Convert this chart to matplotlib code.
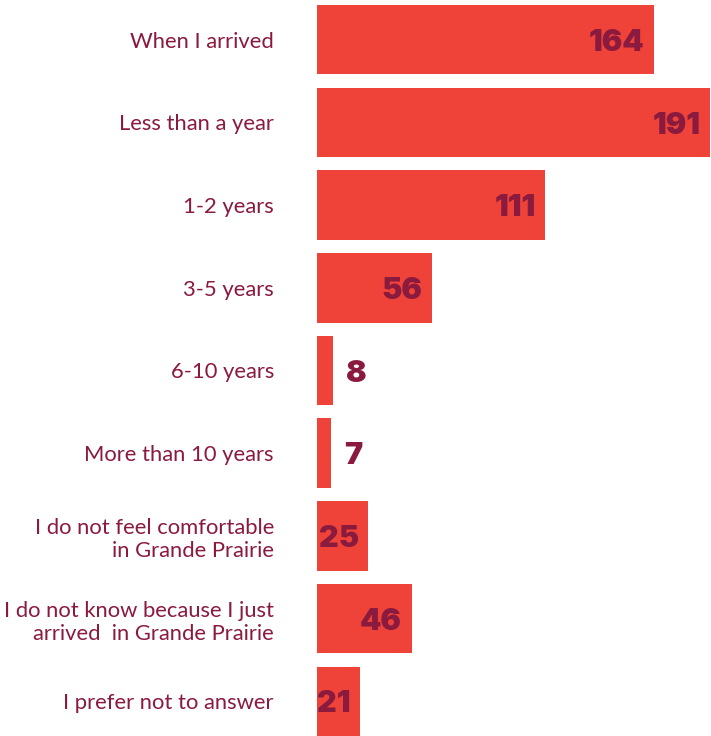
import matplotlib.pyplot as plt

categories = ['When I arrived', 'Less than a year', '1-2 years', '3-5 years',
              '6-10 years', 'More than 10 years',
              'I do not feel comfortable\nin Grande Prairie',
              'I do not know because I just\narrived  in Grande Prairie',
              'I prefer not to answer']
counts = [164, 191, 111, 56, 8, 7, 25, 46, 21]

bar_color = '#EF4239'
text_color = '#8A1A3E'

fig = plt.figure(figsize=(7.11, 7.36), dpi=100)
ax = fig.add_axes([317 / 711, 0, 393 / 711, 1])

ypos = list(range(len(categories)))
ax.barh(ypos, counts, height=0.84, color=bar_color)
ax.set_xlim(0, max(counts))
ax.set_ylim(8.42, -0.48)

ax.set_yticks(ypos)
ax.set_yticklabels(categories, fontsize=15.8, color=text_color, family='Lato',
                   linespacing=1.2)
ax.tick_params(axis='y', length=0, pad=31)
ax.set_xticks([])
for s in ax.spines.values():
    s.set_visible(False)

# value labels: inside the bar end, outside for the tiny bars
for y, v in zip(ypos, counts):
    if v < 15:
        ax.annotate(str(v), (v, y), xytext=(9, -8), textcoords='offset points',
                    ha='left', va='baseline', fontsize=22, fontweight=900,
                    family='Inter', color=text_color)
    else:
        ax.annotate(str(v), (v, y), xytext=(-7, -8), textcoords='offset points',
                    ha='right', va='baseline', fontsize=22, fontweight=900,
                    family='Inter', color=text_color)

fig.savefig('out.png', dpi=100)
